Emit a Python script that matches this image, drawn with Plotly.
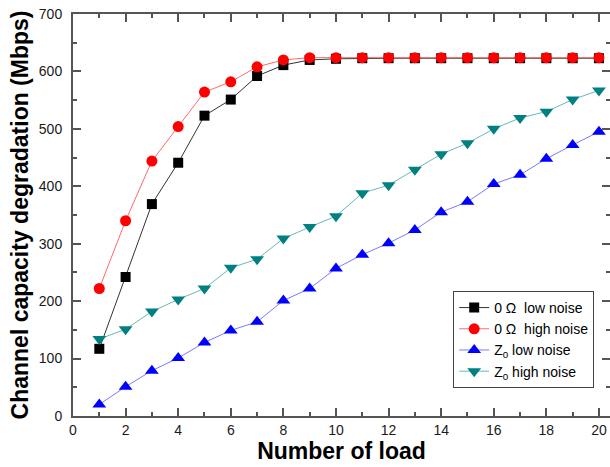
import plotly.graph_objects as go

loads = list(range(1, 21))
ohm_low = [117, 242, 369, 441, 523, 551, 592, 611, 620, 622, 623, 623, 623, 623, 623, 623, 623, 623, 623, 623]
ohm_high = [222, 340, 444, 504, 564, 582, 608, 620, 624, 624, 624, 624, 624, 624, 624, 624, 624, 624, 624, 624]
z0_low = [20, 51, 79, 101, 128, 149, 164, 201, 222, 257, 281, 301, 324, 355, 373, 404, 420, 448, 472, 495]
z0_high = [134, 151, 182, 203, 222, 258, 273, 309, 329, 348, 388, 402, 429, 456, 475, 500, 519, 530, 551, 567]

names = ["0 Ω  low noise", "0 Ω  high noise", "Z<sub>0</sub> low noise", "Z<sub>0</sub> high noise"]
series = [ohm_low, ohm_high, z0_low, z0_high]
marker_colors = ["#000000", "#ff0000", "#0000ff", "#008080"]
line_colors = ["#333333", "#ff6a6a", "#7a7aff", "#6ab8b8"]
symbols = ["square", "circle", "triangle-up", "triangle-down"]
sizes = [10, 11, 12, 12]

fig = go.Figure()
for nm, ys, mc, lc, sym, sz in zip(names, series, marker_colors, line_colors, symbols, sizes):
    fig.add_trace(go.Scatter(
        x=loads, y=ys, name=nm, mode="lines+markers",
        line=dict(color=lc, width=1),
        marker=dict(color=mc, symbol=sym, size=sz, line=dict(width=0)),
    ))

# invisible trace for right-side ticks
fig.add_trace(go.Scatter(x=[0], y=[0], yaxis="y2", showlegend=False,
                         mode="markers", marker=dict(opacity=0), hoverinfo="skip"))

axis_col = "#555555"
tickfont = dict(family="Liberation Sans, Arial, sans-serif", size=14, color="#1a1a1a")
titlefont = dict(family="Liberation Sans, Arial, sans-serif", size=23, color="#000000")

fig.update_layout(
    width=610, height=467,
    margin=dict(l=73, r=0, t=14, b=51),
    paper_bgcolor="white", plot_bgcolor="white",
    showlegend=True,
    legend=dict(
        x=0.708, y=0.311, xanchor="left", yanchor="top",
        bgcolor="white", bordercolor="#444444", borderwidth=1,
        font=dict(family="Liberation Sans, Arial, sans-serif", size=14, color="#000000"),
        itemwidth=30, tracegroupgap=2,
    ),
    xaxis=dict(
        range=[0, 20.42], dtick=2, tick0=0,
        showline=True, linecolor=axis_col, linewidth=2, mirror="ticks",
        ticks="inside", ticklen=8, tickwidth=1.5, tickcolor=axis_col,
        minor=dict(dtick=1, ticks="inside", ticklen=4, tickcolor=axis_col, tickwidth=1.5),
        showgrid=False, zeroline=False,
        tickfont=tickfont,
        title=dict(text="<b>Number of load</b>", font=titlefont, standoff=5),
    ),
    yaxis=dict(
        range=[0, 700], dtick=100, tick0=0,
        showline=True, linecolor=axis_col, linewidth=2, mirror=False,
        ticks="inside", ticklen=8, tickwidth=1.5, tickcolor=axis_col,
        minor=dict(dtick=50, ticks="inside", ticklen=4, tickcolor=axis_col, tickwidth=1.5),
        showgrid=False, zeroline=False,
        tickfont=tickfont, ticklabelstandoff=6,
        title=dict(text="<b>Channel capacity degradation (Mbps)</b>", font=titlefont, standoff=4),
    ),
    yaxis2=dict(
        range=[0, 700], dtick=100, tick0=0, overlaying="y", side="right",
        showline=False, showticklabels=False,
        ticks="inside", ticklen=8, tickwidth=1.5, tickcolor=axis_col,
        minor=dict(dtick=50, ticks="inside", ticklen=4, tickcolor=axis_col, tickwidth=1.5),
        showgrid=False, zeroline=False,
    ),
)

fig.write_html("out.html")
